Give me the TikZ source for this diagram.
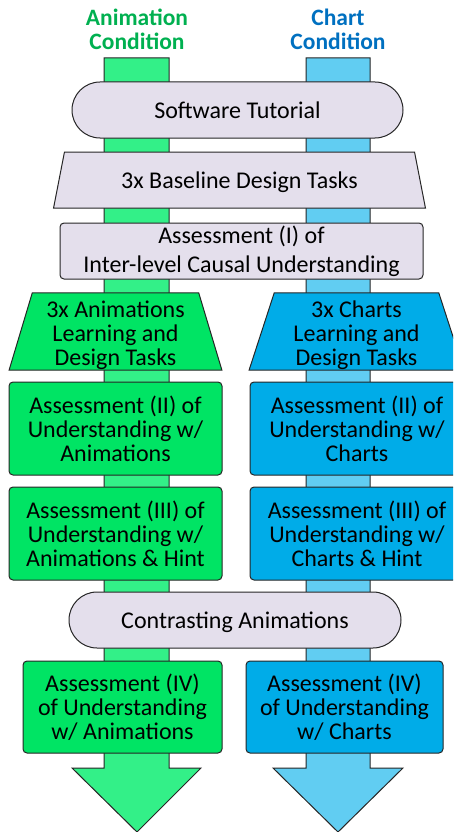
\documentclass[tikz,border=0pt]{standalone}
\usepackage{fontspec}
\setmainfont{Carlito}
\usetikzlibrary{shapes.geometric}

\definecolor{animbar}{RGB}{51,240,136}
\definecolor{animbox}{RGB}{0,228,100}
\definecolor{chartbar}{RGB}{97,205,242}
\definecolor{chartbox}{RGB}{0,172,232}
\definecolor{shared}{RGB}{228,223,236}
\definecolor{animtext}{RGB}{0,176,80}
\definecolor{charttext}{RGB}{0,112,192}
\definecolor{edgegray}{RGB}{38,38,38}

% first line taller, so the text sits a little lower in its box
\newcommand{\lowerline}{\rule{0pt}{25pt}}

\begin{document}
\begin{tikzpicture}[x=1pt,y=-1pt]
\tikzset{box/.style = {draw=edgegray, line width=1pt, rounded corners=4pt, align=center, inner sep=0pt, font=\fontsize{24}{24}\selectfont}}
\tikzset{oneline/.style = {text height=22.5pt, text depth=5pt}}
\tikzset{pill/.style = {box, oneline, rounded corners=28pt, fill=shared, minimum height=56pt}}
\tikzset{trap/.style = {box, rounded corners=0pt, shape=trapezium, trapezium stretches=true}}
\tikzset{heading/.style = {align=center, inner sep=0pt, font=\fontsize{23.5}{24}\selectfont\bfseries}}

\useasboundingbox (0,0) rectangle (453,832);
\clip (0,0) rectangle (453,832);

% the two condition arrows, behind everything
\foreach \l/\r/\hl/\hr/\tip/\col in {104/169/72/201/137/animbar, 306/370/273/403/338/chartbar}
\draw[draw=edgegray, line width=1pt, fill=\col] (\l,58) -- (\r,58) -- (\r,768) -- (\hr,768) -- (\tip,832) -- (\hl,768) -- (\l,768) -- cycle;

\node[heading, text=animtext] (animhead) at (137,29) {Animation\\Condition};
\node[heading, text=charttext] (charthead) at (338,29) {Chart\\Condition};

\node[pill, minimum width=331pt] (tutorial) at (237.5,110) {Software Tutorial};
\node[trap, oneline, fill=shared, minimum width=373pt, minimum height=56pt, trapezium left angle=75, trapezium right angle=75] (baseline) at (239.5,180) {3x Baseline Design Tasks};
\node[box, fill=shared, minimum width=363pt, minimum height=56pt, font=\fontsize{24}{29}\selectfont] (assessI) at (241.5,251) {Assessment (I) of\\Inter-level Causal Understanding};

\node[trap, fill=animbox, minimum width=213pt, minimum height=77pt, trapezium left angle=76, trapezium right angle=76] (animtask) at (115.5,331.5) {\lowerline 3x Animations\\Learning and\\Design Tasks};
\node[trap, fill=chartbox, minimum width=215pt, minimum height=77pt, trapezium left angle=76, trapezium right angle=76] (charttask) at (356.5,331.5) {\lowerline 3x Charts\\Learning and\\Design Tasks};

\node[box, fill=animbox, minimum width=213pt, minimum height=93pt] (animII) at (115.5,428.5) {Assessment (II) of\\Understanding w/\\Animations};
\node[box, fill=chartbox, minimum width=214pt, minimum height=93pt] (chartII) at (357,428.5) {Assessment (II) of\\Understanding w/\\Charts};

\node[box, fill=animbox, minimum width=213pt, minimum height=93pt] (animIII) at (115.5,533.5) {Assessment (III) of\\Understanding w/\\Animations \& Hint};
\node[box, fill=chartbox, minimum width=214pt, minimum height=93pt] (chartIII) at (357,533.5) {Assessment (III) of\\Understanding w/\\Charts \& Hint};

\node[pill, minimum width=332pt] (contrast) at (235,620) {Contrasting Animations};

\node[box, fill=animbox, minimum width=199pt, minimum height=92pt] (animIV) at (122.5,707) {Assessment (IV)\\of Understanding\\w/ Animations};
\node[box, fill=chartbox, minimum width=197pt, minimum height=92pt] (chartIV) at (344.5,707) {Assessment (IV)\\of Understanding\\w/ Charts};

\end{tikzpicture}
\end{document}
